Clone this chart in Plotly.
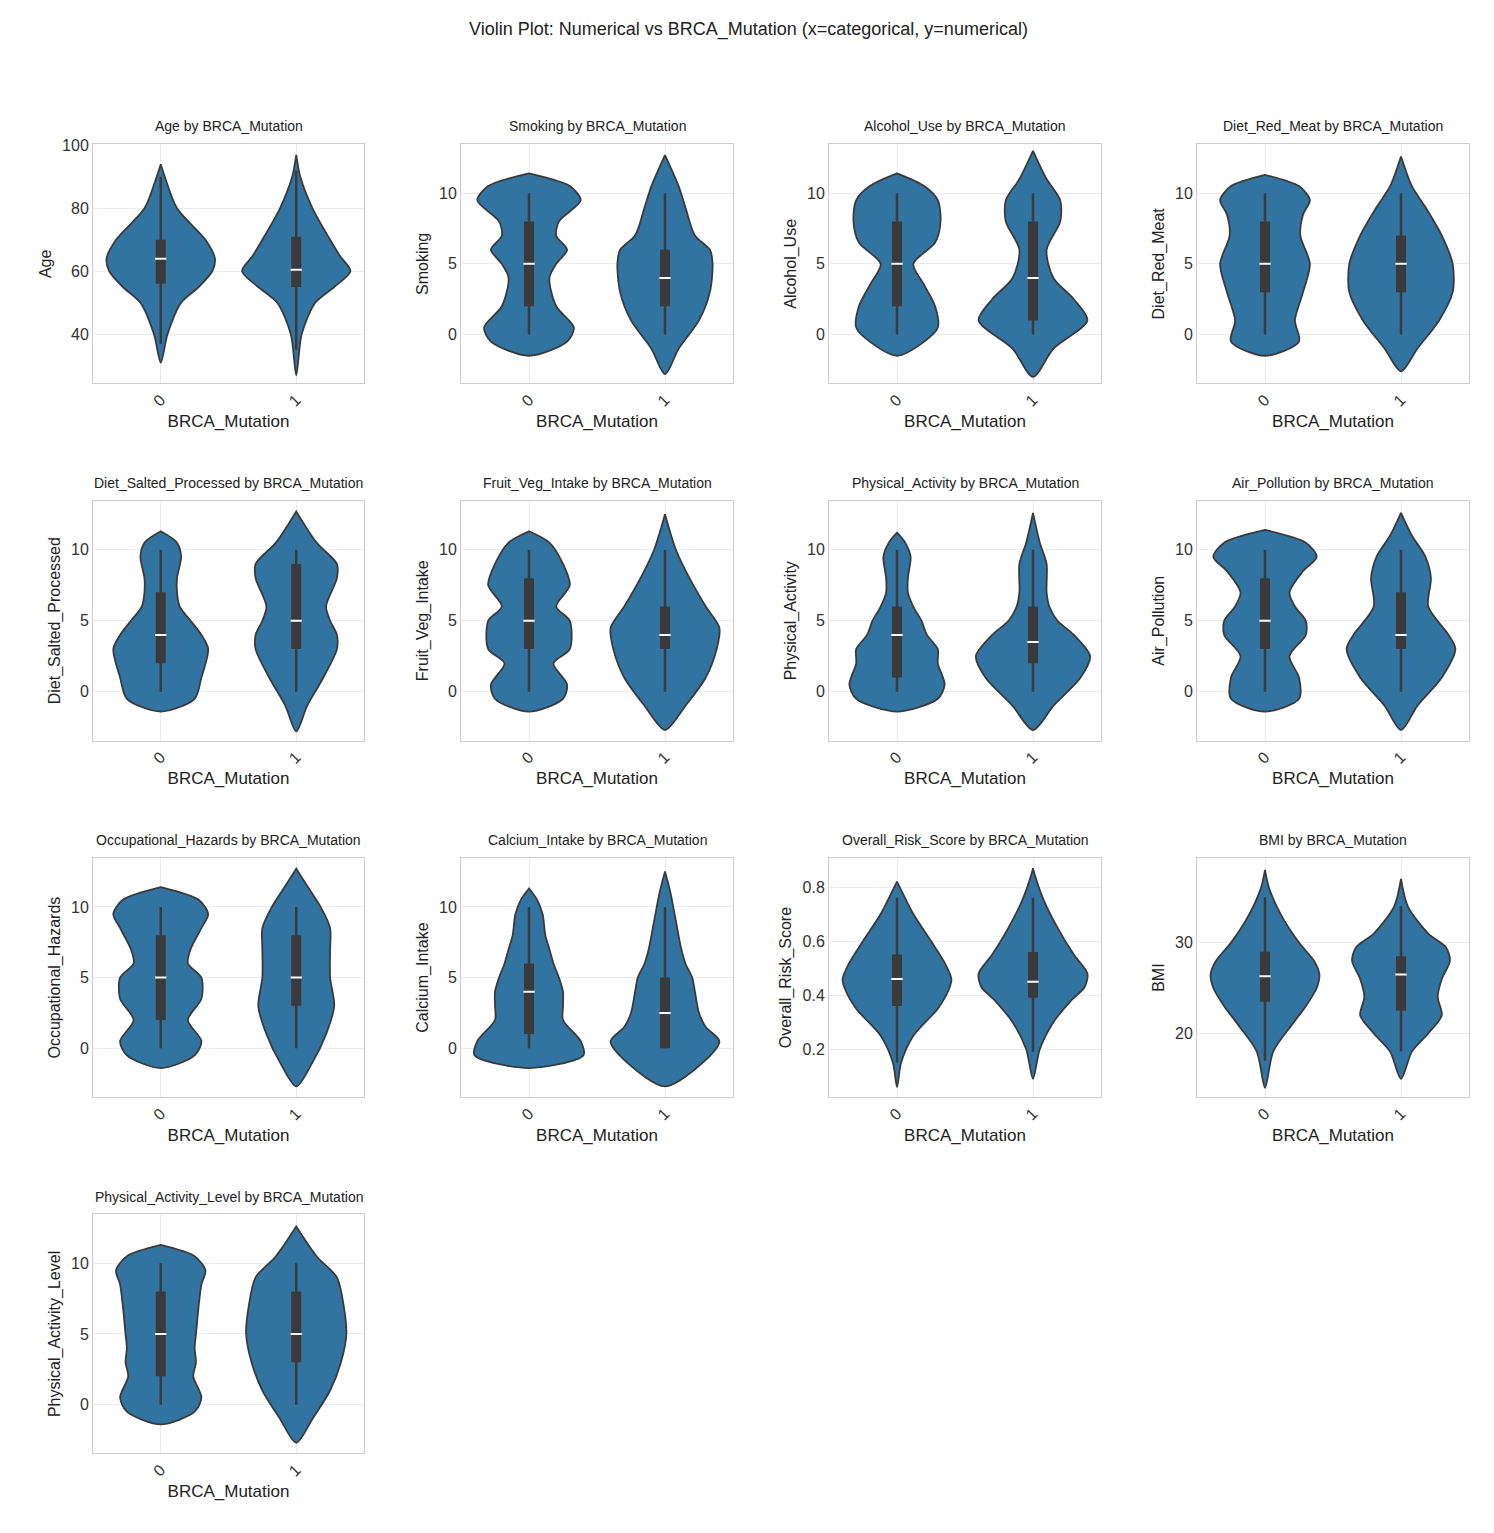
import plotly.graph_objects as go

W, H = 1494, 1533
FILL = "#3274a1"
EDGE = "#3a3a3a"
DX, DY = 7, 8  # page offset compensation

groups = ["0", "1"]

# profile per group: ys, half-widths, box (whisker lo, q1, median, q3, whisker hi)
age_0 = dict(ys=[31, 40, 50, 55, 60, 64, 70, 80, 90, 94],
             ws=[0, 0.05, 0.15, 0.28, 0.38, 0.40, 0.33, 0.12, 0.03, 0], box=[37, 56, 64, 70, 90])
age_1 = dict(ys=[27, 40, 50, 55, 60, 65, 70, 80, 90, 97],
             ws=[0, 0.04, 0.14, 0.28, 0.40, 0.32, 0.25, 0.12, 0.03, 0], box=[35, 55, 60.5, 71, 92])
smoking_0 = dict(ys=[-1.5, -0.5, 0.5, 2, 4, 5, 6, 7, 8, 9.5, 10.5, 11.4],
                 ws=[0, 0.28, 0.33, 0.2, 0.15, 0.2, 0.28, 0.2, 0.22, 0.38, 0.3, 0], box=[0, 2, 5, 8, 10])
smoking_1 = dict(ys=[-2.8, -1, 1, 3, 5, 6, 7, 9, 10.5, 12.7],
                 ws=[0, 0.1, 0.25, 0.33, 0.35, 0.33, 0.22, 0.15, 0.1, 0], box=[0, 2, 4, 6, 10])
alcohol_0 = dict(ys=[-1.5, -0.5, 0.5, 2, 3.5, 5, 6.5, 8, 9.5, 10.5, 11.4],
                 ws=[0, 0.2, 0.3, 0.28, 0.2, 0.12, 0.28, 0.32, 0.3, 0.2, 0], box=[0, 2, 5, 8, 10])
alcohol_1 = dict(ys=[-3, -1, 1, 2.5, 4, 6, 8, 9.5, 11, 13],
                 ws=[0, 0.15, 0.4, 0.3, 0.15, 0.1, 0.2, 0.2, 0.1, 0], box=[0, 1, 4, 8, 10])
meat_0 = dict(ys=[-1.5, -0.5, 1, 3, 5, 7, 8.5, 9.5, 10.5, 11.3],
              ws=[0, 0.25, 0.22, 0.28, 0.33, 0.26, 0.28, 0.33, 0.25, 0], box=[0, 3, 5, 8, 10])
meat_1 = dict(ys=[-2.6, -1, 1, 3, 5, 7, 9, 10.5, 12.6],
              ws=[0, 0.12, 0.28, 0.38, 0.38, 0.3, 0.18, 0.08, 0], box=[0, 3, 5, 7, 10])
salted_0 = dict(ys=[-1.4, -0.5, 1, 3, 4, 5, 6, 7, 8, 9.5, 10.5, 11.3],
                ws=[0, 0.25, 0.3, 0.35, 0.3, 0.22, 0.14, 0.12, 0.12, 0.15, 0.12, 0], box=[0, 2, 4, 7, 10])
salted_1 = dict(ys=[-2.8, -1, 1, 3, 4, 5, 6, 8, 9, 10.5, 12.7],
                ws=[0, 0.08, 0.2, 0.3, 0.3, 0.25, 0.22, 0.3, 0.3, 0.15, 0], box=[0, 3, 5, 9, 10])
fruit_0 = dict(ys=[-1.4, -0.5, 0.5, 2, 3, 5, 6, 7.5, 9, 10.5, 11.3],
               ws=[0, 0.25, 0.28, 0.18, 0.3, 0.3, 0.2, 0.3, 0.25, 0.15, 0], box=[0, 3, 5, 8, 10])
fruit_1 = dict(ys=[-2.7, -1, 1, 3, 4.5, 6, 8, 10, 12.5],
               ws=[0, 0.15, 0.3, 0.38, 0.4, 0.3, 0.18, 0.08, 0], box=[0, 3, 4, 6, 10])
phys_0 = dict(ys=[-1.4, -0.5, 0.5, 2, 3, 4, 5, 6, 7, 8, 9.5, 10.5, 11.2],
              ws=[0, 0.3, 0.35, 0.3, 0.3, 0.22, 0.18, 0.12, 0.08, 0.08, 0.1, 0.06, 0], box=[0, 1, 4, 6, 10])
phys_1 = dict(ys=[-2.7, -1, 1, 2.5, 4, 5, 6, 7, 9, 10.5, 12.6],
              ws=[0, 0.15, 0.35, 0.42, 0.3, 0.18, 0.12, 0.1, 0.1, 0.05, 0], box=[0, 2, 3.5, 6, 10])
air_0 = dict(ys=[-1.4, -0.5, 1, 2.5, 4, 5, 6, 7, 8.5, 9.5, 10.5, 11.4],
             ws=[0, 0.25, 0.25, 0.18, 0.3, 0.3, 0.22, 0.18, 0.28, 0.38, 0.3, 0], box=[0, 3, 5, 8, 10])
air_1 = dict(ys=[-2.7, -1, 1, 3, 4, 6, 8, 9.5, 11, 12.6],
             ws=[0, 0.12, 0.3, 0.4, 0.35, 0.2, 0.22, 0.18, 0.08, 0], box=[0, 3, 4, 7, 10])
occ_0 = dict(ys=[-1.4, -0.5, 0.5, 2, 3.5, 5, 6, 7, 8.5, 9.5, 10.5, 11.4],
             ws=[0, 0.25, 0.3, 0.2, 0.3, 0.3, 0.2, 0.22, 0.3, 0.35, 0.28, 0], box=[0, 2, 5, 8, 10])
occ_1 = dict(ys=[-2.7, -1, 1, 3, 5, 7, 8.5, 10, 11.5, 12.7],
             ws=[0, 0.12, 0.22, 0.28, 0.25, 0.25, 0.25, 0.18, 0.08, 0], box=[0, 3, 5, 8, 10])
calc_0 = dict(ys=[-1.4, -0.5, 0.5, 2, 3, 4, 5, 6, 7, 8, 9.5, 10.5, 11.3],
              ws=[0, 0.4, 0.38, 0.25, 0.25, 0.25, 0.22, 0.18, 0.15, 0.12, 0.1, 0.06, 0], box=[0, 1, 4, 6, 10])
calc_1 = dict(ys=[-2.7, -1, 0.5, 1.5, 2.5, 4, 5, 6, 7, 9, 11, 12.5],
              ws=[0, 0.28, 0.4, 0.3, 0.25, 0.22, 0.2, 0.15, 0.12, 0.08, 0.04, 0], box=[0, 0, 2.5, 5, 10])
risk_0 = dict(ys=[0.06, 0.15, 0.25, 0.35, 0.42, 0.46, 0.52, 0.6, 0.7, 0.8, 0.82],
              ws=[0, 0.03, 0.12, 0.3, 0.38, 0.4, 0.35, 0.25, 0.12, 0.02, 0], box=[0.15, 0.36, 0.46, 0.55, 0.76])
risk_1 = dict(ys=[0.09, 0.2, 0.3, 0.38, 0.43, 0.48, 0.55, 0.65, 0.75, 0.85, 0.87],
              ws=[0, 0.05, 0.15, 0.28, 0.38, 0.4, 0.3, 0.18, 0.08, 0.01, 0], box=[0.19, 0.39, 0.45, 0.56, 0.76])
bmi_0 = dict(ys=[14, 18, 21, 23, 25, 26.5, 28, 30, 33, 36, 38],
             ws=[0, 0.06, 0.2, 0.3, 0.38, 0.4, 0.36, 0.25, 0.12, 0.03, 0], box=[17, 23.5, 26.3, 29, 35])
bmi_1 = dict(ys=[15, 18, 20, 22, 24, 26, 28, 29.5, 31, 34, 37],
             ws=[0, 0.08, 0.2, 0.3, 0.27, 0.3, 0.36, 0.33, 0.2, 0.05, 0], box=[18, 22.5, 26.5, 28.5, 34])
pal_0 = dict(ys=[-1.4, -0.5, 0.5, 2, 3, 4, 5, 7, 8.5, 9.5, 10.5, 11.3],
             ws=[0, 0.25, 0.3, 0.24, 0.26, 0.25, 0.26, 0.28, 0.3, 0.33, 0.25, 0], box=[0, 2, 5, 8, 10])
pal_1 = dict(ys=[-2.7, -1, 1, 3, 5, 7, 9, 10.5, 12.6],
             ws=[0, 0.12, 0.25, 0.33, 0.37, 0.35, 0.3, 0.15, 0], box=[0, 3, 5, 8, 10])

R10 = [-3.45, 13.45]
T10 = [0, 5, 10]
panels = [
    ("Age", [24.4, 100.3], [40, 60, 80, 100], age_0, age_1),
    ("Smoking", R10, T10, smoking_0, smoking_1),
    ("Alcohol_Use", R10, T10, alcohol_0, alcohol_1),
    ("Diet_Red_Meat", R10, T10, meat_0, meat_1),
    ("Diet_Salted_Processed", R10, T10, salted_0, salted_1),
    ("Fruit_Veg_Intake", R10, T10, fruit_0, fruit_1),
    ("Physical_Activity", R10, T10, phys_0, phys_1),
    ("Air_Pollution", R10, T10, air_0, air_1),
    ("Occupational_Hazards", R10, T10, occ_0, occ_1),
    ("Calcium_Intake", R10, T10, calc_0, calc_1),
    ("Overall_Risk_Score", [0.023, 0.907], [0.2, 0.4, 0.6, 0.8], risk_0, risk_1),
    ("BMI", [13.0, 39.3], [20, 30], bmi_0, bmi_1),
    ("Physical_Activity_Level", R10, T10, pal_0, pal_1),
]

col_px = [(92, 363), (460, 732), (828, 1100), (1196, 1468)]
row_px = [(138, 378), (496, 737), (855, 1095), (1213, 1453)]

fig = go.Figure()
annotations = []
layout = {}
for i, (name, yr, yt, p0, p1) in enumerate(panels):
    r, c = divmod(i, 4)
    n = "" if i == 0 else str(i + 1)
    xa, ya = "x" + n, "y" + n
    for gx, p in enumerate([p0, p1]):
        xs = [gx + w for w in p["ws"]] + [gx - w for w in p["ws"][::-1]]
        ys = p["ys"] + p["ys"][::-1]
        fig.add_trace(go.Scatter(x=xs, y=ys, xaxis=xa, yaxis=ya, mode="lines", fill="toself",
                                 fillcolor=FILL, line=dict(color=EDGE, width=1.8, shape="spline", smoothing=0.8),
                                 showlegend=False, hoverinfo="skip"))
        lo, q1, med, q3, hi = p["box"]
        fig.add_trace(go.Scatter(x=[gx, gx], y=[lo, hi], xaxis=xa, yaxis=ya, mode="lines",
                                 line=dict(color=EDGE, width=2.5), showlegend=False, hoverinfo="skip"))
        fig.add_trace(go.Scatter(x=[gx, gx], y=[q1, q3], xaxis=xa, yaxis=ya, mode="lines",
                                 line=dict(color=EDGE, width=10), showlegend=False, hoverinfo="skip"))
        fig.add_trace(go.Scatter(x=[gx], y=[med], xaxis=xa, yaxis=ya, mode="markers",
                                 marker=dict(symbol="line-ew", size=8, line=dict(color="white", width=2)),
                                 showlegend=False, hoverinfo="skip"))
    x0, x1 = col_px[c]
    y0, y1 = row_px[r]
    x0, x1, y0, y1 = x0 - DX, x1 - DX, y0 - DY, y1 - DY
    layout["xaxis" + n] = dict(domain=[x0 / W, x1 / W], anchor=ya, range=[-0.5, 1.5],
                               tickvals=[0, 1], ticktext=groups, tickangle=-45,
                               showgrid=True, gridcolor="#ebebeb", zeroline=False,
                               showline=True, mirror=True, linecolor="#cccccc",
                               tickfont=dict(size=16, color="#333"),
                               title=dict(text="BRCA_Mutation", font=dict(size=17, color="#222"), standoff=6))
    layout["yaxis" + n] = dict(domain=[1 - y1 / H, 1 - y0 / H], anchor=xa, range=yr, tickvals=yt,
                               showgrid=True, gridcolor="#ebebeb", zeroline=False,
                               showline=True, mirror=True, linecolor="#cccccc",
                               tickfont=dict(size=16, color="#333"),
                               title=dict(text=name, font=dict(size=16, color="#222"), standoff=6))
    annotations.append(dict(text=f"{name} by BRCA_Mutation", x=(x0 + x1) / 2 / W, y=1 - (y0 - 8) / H,
                            xref="paper", yref="paper", xanchor="center", yanchor="bottom",
                            showarrow=False, font=dict(size=14, color="#222")))

annotations.append(dict(text="Violin Plot: Numerical vs BRCA_Mutation (x=categorical, y=numerical)",
                        x=(W / 2 - DX) / W, y=1 - (23 - DY) / H, xref="paper", yref="paper", yanchor="middle",
                        showarrow=False, font=dict(size=18, color="#222")))

fig.update_layout(width=W, height=H, margin=dict(l=0, r=0, t=0, b=0),
                  paper_bgcolor="white", plot_bgcolor="white",
                  font=dict(family="Liberation Sans, Arial"), annotations=annotations, **layout)
fig.write_html("out.html")
